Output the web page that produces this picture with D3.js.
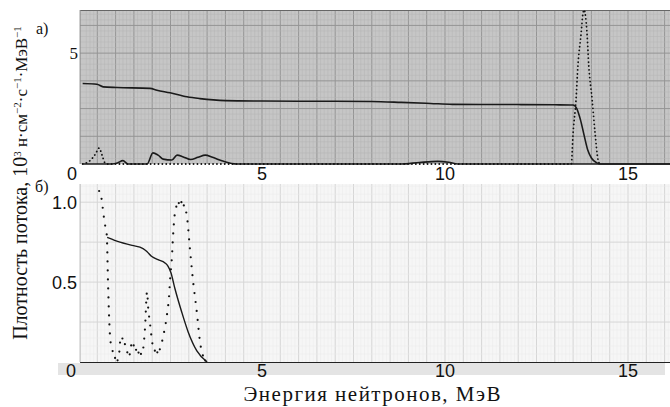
<!DOCTYPE html>
<html><head><meta charset="utf-8">
<script src="https://cdn.jsdelivr.net/npm/d3@7"></script>
<style>html,body{margin:0;padding:0;background:#fff}svg{display:block}</style>
</head><body>
<svg id="c" width="670" height="407"></svg>
<script>
// ---- data ----
const xTicks = [0, 5, 10, 15];
const topYTicks = [5];
const botYTicks = [0.5, 1.0];

// panel a) solid curve (spectrum)
const aSolidE = [0.1, 0.49, 0.66, 1.04, 1.94, 2.13, 2.49, 2.95, 3.3, 4.0, 5, 6, 7, 8, 8.8, 9.6, 10.2, 11, 12, 13, 13.5, 13.6, 13.7, 13.8, 13.9, 14.0, 14.15, 14.25, 16.2];
const aSolidV = [3.63, 3.6, 3.48, 3.45, 3.41, 3.33, 3.21, 3.03, 2.95, 2.86, 2.84, 2.83, 2.83, 2.82, 2.78, 2.73, 2.69, 2.68, 2.68, 2.67, 2.66, 2.5, 2.0, 1.3, 0.63, 0.27, 0.05, 0, 0];
// panel a) low solid curve
const aLowE = [0.1, 0.9, 1.05, 1.2, 1.34, 1.86, 2.02, 2.16, 2.3, 2.54, 2.68, 2.85, 3.05, 3.25, 3.45, 3.65, 3.95, 4.3, 8.8, 9.3, 9.8, 10.1, 10.35, 13.5, 16.2];
const aLowV = [0, 0, 0.05, 0.15, 0, 0, 0.5, 0.4, 0.22, 0.18, 0.4, 0.32, 0.2, 0.3, 0.4, 0.3, 0.12, 0, 0, 0.07, 0.12, 0.08, 0, 0, 0];
// panel a) dotted curve
const aDotE = [0.1, 0.3, 0.45, 0.55, 0.63, 0.71, 0.78, 13.45, 13.5, 13.58, 13.63, 13.72, 13.77, 13.8, 13.88, 13.93, 14.02, 14.1, 14.18, 14.23];
const aDotV = [0, 0.15, 0.45, 0.72, 0.4, 0.05, 0, 0, 1.4, 2.9, 4.4, 5.9, 6.8, 7.0, 5.9, 4.4, 2.9, 1.4, 0.2, 0];

// panel б) solid curve
const bSolidE = [0.77, 1.12, 1.45, 1.75, 1.86, 1.99, 2.16, 2.35, 2.43, 2.51, 2.62, 2.81, 2.98, 3.22, 3.5];
const bSolidV = [0.78, 0.75, 0.73, 0.71, 0.69, 0.66, 0.64, 0.62, 0.6, 0.56, 0.46, 0.31, 0.19, 0.07, 0];
// panel б) dotted curve
const bDotE = [0.55, 0.63, 0.66, 0.71, 0.76, 0.79, 0.83, 0.86, 0.93, 1.05, 1.1, 1.14, 1.22, 1.3, 1.36, 1.45, 1.52, 1.62, 1.72, 1.8, 1.86, 1.89, 1.94, 2.02, 2.13, 2.21, 2.3, 2.4, 2.46, 2.49, 2.54, 2.57, 2.62, 2.7, 2.8, 2.88, 2.95, 3.03, 3.11, 3.22, 3.31, 3.42, 3.5];
const bDotV = [1.07, 1.0, 0.94, 0.86, 0.79, 0.52, 0.24, 0.13, 0.06, 0.01, 0.06, 0.16, 0.13, 0.08, 0.03, 0.12, 0.09, 0.06, 0.05, 0.2, 0.44, 0.34, 0.24, 0.1, 0.06, 0.08, 0.16, 0.29, 0.41, 0.52, 0.66, 0.79, 0.93, 0.99, 1.0, 0.97, 0.91, 0.71, 0.52, 0.31, 0.12, 0.02, 0];

// ---- scales ----
const svg = d3.select("#c");
const x = d3.scaleLinear().domain([0, 16]).range([79, 664.6]);
const yA = d3.scaleLinear().domain([0, 6.9]).range([164, 11]);
const yB = d3.scaleLinear().domain([0, 1.12]).range([362, 183]);
const xA0 = 0.03, xB0 = 0.03;

function panel(y, x0, fill, minorCol, majorCol, yMinor, yMajor, top, bottom) {
  const g = svg.append("g");
  g.append("rect").attr("x", x(x0)).attr("y", top).attr("width", 670 - x(x0)).attr("height", bottom - top).attr("fill", fill);
  const isMaj = d => Math.abs(d * 2 - Math.round(d * 2)) < 1e-6;
  const vMinor = d3.range(0.2, 16.2, 0.1).filter(v => v > x0 + 0.02);
  g.selectAll(".vm").data(vMinor).enter().append("line")
    .attr("x1", d => x(d)).attr("x2", d => x(d)).attr("y1", top).attr("y2", bottom)
    .attr("stroke", d => isMaj(d) ? majorCol : minorCol)
    .attr("stroke-width", d => isMaj(d) ? 1 : 0.5);
  const hLines = d3.range(yMinor, y.domain()[1], yMinor);
  const isMajH = d => Math.abs(d / yMajor - Math.round(d / yMajor)) < 1e-6;
  g.selectAll(".hm").data(hLines).enter().append("line")
    .attr("x1", x(x0)).attr("x2", 670).attr("y1", d => y(d)).attr("y2", d => y(d))
    .attr("stroke", d => isMajH(d) ? majorCol : minorCol)
    .attr("stroke-width", d => isMajH(d) ? 1 : 0.5);
  return g;
}

// panel a background
panel(yA, xA0, "#c6c6c6", "#b4b4b4", "#959595", 0.25, 1.25, 11, 164);
svg.append("line").attr("x1", x(xA0)).attr("x2", 670).attr("y1", 10.5).attr("y2", 10.5).attr("stroke", "#666").attr("stroke-width", 1);
svg.append("line").attr("x1", x(xA0)).attr("x2", x(xA0)).attr("y1", 10).attr("y2", 164).attr("stroke", "#888").attr("stroke-width", 1);

// panel б background
panel(yB, xB0, "#f6f6f6", "#ebebeb", "#d6d6d6", 0.05, 0.25, 184, 362);
svg.append("line").attr("x1", x(xB0)).attr("x2", x(xB0)).attr("y1", 184).attr("y2", 362).attr("stroke", "#b5b5b5").attr("stroke-width", 1);
// scanner band below panel б
svg.append("rect").attr("x", 58).attr("y", 363).attr("width", 607).attr("height", 12).attr("fill", "#e4e4e4");

// curves
const lineA = (E, V) => d3.line().x((d, i) => x(E[i])).y((d, i) => yA(Math.min(V[i], 6.95))).curve(d3.curveMonotoneX)(V);
const lineB = (E, V) => d3.line().x((d, i) => x(E[i])).y((d, i) => yB(V[i])).curve(d3.curveMonotoneX)(V);

svg.append("path").attr("d", lineA(aLowE, aLowV)).attr("fill", "none").attr("stroke", "#1a1a1a").attr("stroke-width", 1.6);
svg.append("path").attr("d", lineA(aSolidE, aSolidV)).attr("fill", "none").attr("stroke", "#1a1a1a").attr("stroke-width", 1.6);
svg.append("path").attr("d", lineA(aDotE, aDotV)).attr("fill", "none").attr("stroke", "#111").attr("stroke-width", 1.8)
  .attr("stroke-dasharray", "0.1,3.8").attr("stroke-linecap", "round");

svg.append("line").attr("x1", x(xB0)).attr("x2", 670).attr("y1", 362.5).attr("y2", 362.5).attr("stroke", "#222").attr("stroke-width", 1);
svg.append("path").attr("d", lineB(bSolidE, bSolidV)).attr("fill", "none").attr("stroke", "#1a1a1a").attr("stroke-width", 1.4);

// dotted curve of panel б: dots spaced along the energy axis (recorder style)
const guide = svg.append("path").attr("d", lineB(bDotE, bDotV)).attr("fill", "none").attr("stroke", "none");
const node = guide.node();
const L = node.getTotalLength();
const dots = [];
let lastX = -Infinity, lastL = -Infinity;
for (let l = 0; l <= L; l += 0.25) {
  const p = node.getPointAtLength(l);
  if (p.x - lastX >= 2.4 || l - lastL >= 9) { dots.push(p); lastX = p.x; lastL = l; }
}
svg.append("g").selectAll("circle").data(dots).enter().append("circle")
  .attr("cx", d => d.x).attr("cy", d => d.y).attr("r", 1.1).attr("fill", "#111");

// tick labels
const sans = "'Liberation Sans', Arial, sans-serif";
const serif = "'Liberation Serif', 'Times New Roman', serif";
svg.selectAll(".xta").data(xTicks).enter().append("text")
  .attr("x", d => d === 0 ? 72 : x(d)).attr("y", 180).attr("text-anchor", "middle")
  .attr("font-family", sans).attr("font-size", 18).attr("fill", "#111").text(d => d);
svg.selectAll(".xtb").data(xTicks).enter().append("text")
  .attr("x", d => d === 0 ? 71 : x(d)).attr("y", 377).attr("text-anchor", "middle")
  .attr("font-family", sans).attr("font-size", 18).attr("fill", "#111").text(d => d);
svg.selectAll(".yta").data(topYTicks).enter().append("text")
  .attr("x", 78).attr("y", d => yA(d) + 6).attr("text-anchor", "end")
  .attr("font-family", serif).attr("font-size", 17).attr("fill", "#111").text(d => d);
svg.selectAll(".ytb").data(botYTicks).enter().append("text")
  .attr("x", 77).attr("y", d => yB(d) + 7).attr("text-anchor", "end")
  .attr("font-family", sans).attr("font-size", 18).attr("fill", "#111").text(d => d.toFixed(1));

// panel letters
svg.append("text").attr("x", 36).attr("y", 34).attr("font-family", serif).attr("font-size", 16).attr("fill", "#111").text("а)");
svg.append("text").attr("x", 35).attr("y", 192).attr("font-family", serif).attr("font-size", 16).attr("fill", "#111").text("б)");

// axis titles
svg.append("text").attr("x", 372).attr("y", 401).attr("text-anchor", "middle")
  .attr("font-family", serif).attr("font-size", 21).attr("fill", "#111")
  .attr("textLength", 257).attr("lengthAdjust", "spacing").text("Энергия нейтронов, МэВ");

const yt = svg.append("text").attr("transform", "translate(27,183) rotate(-90)").attr("text-anchor", "middle")
  .attr("font-family", serif).attr("font-size", 20).attr("fill", "#111");
yt.append("tspan").text("Плотность потока, 10");
const sup = (s) => yt.append("tspan").attr("baseline-shift", "super").attr("font-size", 11).text(s);
const nrm = (s) => yt.append("tspan").attr("baseline-shift", "0").attr("font-size", 17).text(s);
sup("3");
nrm(" н·см");
sup("−2");
nrm("·с");
sup("−1");
nrm("·МэВ");
sup("−1");
</script>
</body></html>
